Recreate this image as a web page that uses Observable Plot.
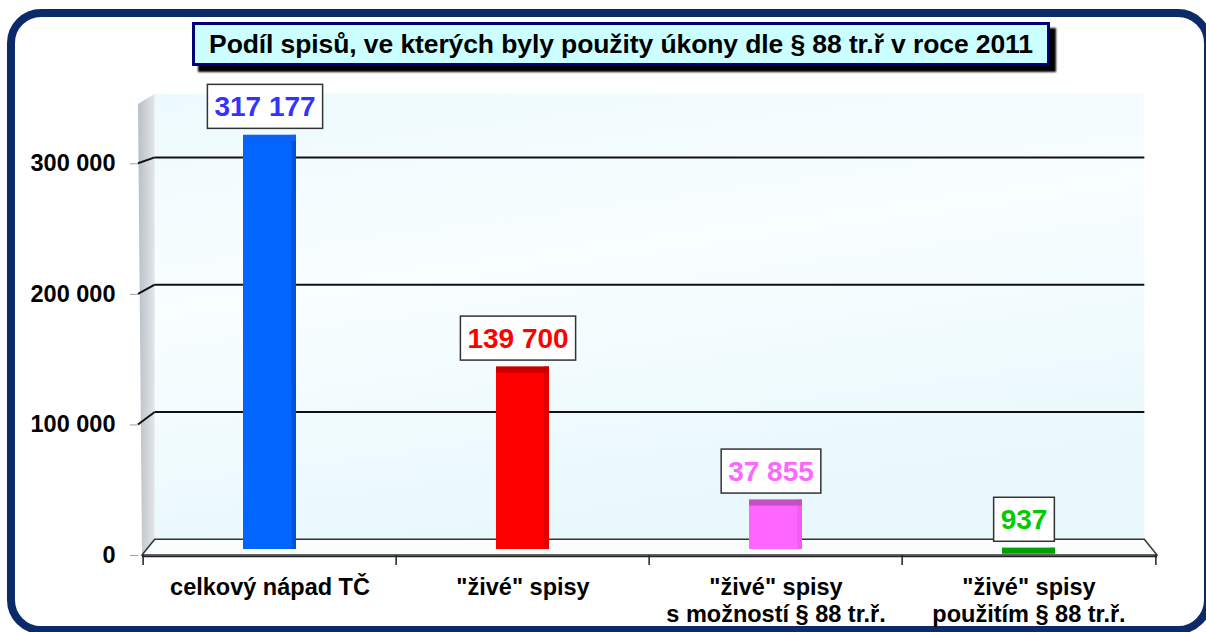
<!DOCTYPE html>
<html>
<head>
<meta charset="utf-8">
<script src="https://cdn.jsdelivr.net/npm/d3@7"></script>
<script src="https://cdn.jsdelivr.net/npm/@observablehq/plot@0.6"></script>
<style>
  body { margin: 0; background: #fff; }
  #wrap { position: relative; width: 1206px; height: 632px; overflow: hidden; font-family: "Liberation Sans", Arial, sans-serif; }
  #frame { position: absolute; left: 7px; top: 9px; width: 1205px; height: 625px; box-sizing: border-box; border: 8px solid #0c2a6a; border-radius: 34px; }
  #title { position: absolute; left: 192px; top: 22px; width: 858px; height: 44px; box-sizing: border-box; border: 3px solid #00007a; background: #ccffff; box-shadow: 6px 6px 2px #000; font-weight: bold; font-size: 26.5px; line-height: 38px; text-align: center; color: #000; white-space: nowrap; z-index: 2; letter-spacing: -0.1px; }
  #wrap svg { position: absolute; left: 0; top: 0; z-index: 1; }
</style>
</head>
<body>
<div id="wrap">
  <div id="frame"></div>
  <div id="title"></div>
</div>
<script>
// ---- data ----
const titleText = "Podíl spisů, ve kterých byly použity úkony dle § 88 tr.ř v roce 2011";
const categories = [
  "celkový nápad TČ",
  "\"živé\" spisy",
  "\"živé\" spisy\ns možností § 88 tr.ř.",
  "\"živé\" spisy\npoužitím § 88 tr.ř."
];
const values = [317177, 139700, 37855, 937];
const valueLabels = ["317 177", "139 700", "37 855", "937"];
const barColors = ["#0066ff", "#ff0000", "#ff66ff", "#00a800"];
const topColors = ["#0a62f4", "#c80000", "#c450c4", "#00a000"];
const sideColors = ["#0052d6", "#e00000", "#f05cf0", "#009000"];
const labelColors = ["#3333ff", "#ff0000", "#ff66ff", "#00cc00"];
const yTicks = [0, 100000, 200000, 300000];
const yTickLabels = ["0", "100 000", "200 000", "300 000"];
const yMax = 350000;

// ---- layout ----
const FONT = "'Liberation Sans', Arial, sans-serif";
const W = 1206, H = 632;
const mL = 142, mR = 49, mT = 98, mB = 77;
const step = (W - mL - mR) / categories.length;
const padIn = 0.79;
const bw = step * (1 - padIn);

document.getElementById("title").textContent = titleText;

const data = categories.map((cat, i) => ({
  cat, value: values[i], label: valueLabels[i],
  fill: barColors[i], top: topColors[i], side: sideColors[i], ink: labelColors[i]
}));

const chart = Plot.plot({
  width: W, height: H,
  marginLeft: mL, marginRight: mR, marginTop: mT, marginBottom: mB,
  style: { background: "transparent", fontFamily: FONT, overflow: "visible" },
  x: { domain: categories, paddingInner: padIn, paddingOuter: padIn / 2, axis: null, label: null },
  y: { domain: [0, yMax], axis: null, label: null },
  color: { type: "identity" },
  marks: [
    Plot.axisY({ ticks: yTicks, tickFormat: d => yTickLabels[yTicks.indexOf(d)], tickSize: 8, dx: -4, tickPadding: 15,
                 stroke: "#a0a0a0", fill: "#000", fontSize: 23.5, fontWeight: "bold", label: null }),
    Plot.axisX({ tickSize: 0, tickPadding: 21, fontSize: 23.5, fontWeight: "bold", lineHeight: 1.12, fill: "#000", label: null }),
    Plot.ruleY([0], { stroke: "#222", strokeWidth: 1.5, dy: 1 }),
    Plot.ruleX(categories, { x: d => d, y1: 0, y2: 0, dx: -step / 2, insetBottom: -10, stroke: "#222", strokeWidth: 1.5 }),
    Plot.ruleX([categories[categories.length - 1]], { x: d => d, y1: 0, y2: 0, dx: step / 2, insetBottom: -10, stroke: "#222", strokeWidth: 1.5 }),
    Plot.barY(data, { x: "cat", y: "value", fill: "fill", dy: -6 }),
    Plot.barY(data, { x: "cat", y: "value", fill: "side", dy: -6, insetLeft: bw - 5 }),
    Plot.barY(data, { x: "cat", y1: "value", y2: "value", fill: "top", dy: -6, insetBottom: -6 }),
    Plot.text(data, { x: "cat", y: "value", text: "label", fill: "ink", dx: -5, dy: -25, lineAnchor: "bottom",
                      fontSize: 28, fontWeight: "bold" })
  ]
});

document.getElementById("wrap").appendChild(chart);

// ---- 3D decoration (back wall, side wall, floor, gridlines) from the plot's scales ----
const ys = chart.scale("y");
const svg = d3.select(chart);
const K = 0.975, VPX = 650, VPY = -72;
const bx = x => VPX + (x - VPX) * K;
const by = y => VPY + (y - VPY) * K;
const xL = mL, xR = W - mR;
const y0 = ys.apply(0), yTop = ys.apply(yMax);

const defs = svg.insert("defs", ":first-child");
const wall = defs.append("linearGradient").attr("id", "wallG").attr("x1", 0).attr("y1", 0).attr("x2", 0.3).attr("y2", 1);
wall.append("stop").attr("offset", "0%").attr("stop-color", "#edfafd");
wall.append("stop").attr("offset", "45%").attr("stop-color", "#f9feff");
wall.append("stop").attr("offset", "100%").attr("stop-color", "#e8f8fc");
const side = defs.append("linearGradient").attr("id", "sideG").attr("x1", 0).attr("y1", 0).attr("x2", 1).attr("y2", 0);
side.append("stop").attr("offset", "0%").attr("stop-color", "#b9bfc6");
side.append("stop").attr("offset", "100%").attr("stop-color", "#e3e7eb");

const deco = svg.insert("g", "defs + *");
deco.append("rect")
  .attr("x", bx(xL)).attr("y", by(yTop))
  .attr("width", bx(xR) - bx(xL)).attr("height", by(y0) - by(yTop))
  .attr("fill", "url(#wallG)");
deco.append("polygon")
  .attr("points", [[xL - 4, yTop + 6], [bx(xL), by(yTop)], [bx(xL), by(y0)], [xL, y0]].map(p => p.join(",")).join(" "))
  .attr("fill", "url(#sideG)");
deco.append("polygon")
  .attr("points", [[xL, y0], [xR, y0], [bx(xR), by(y0)], [bx(xL), by(y0)]].map(p => p.join(",")).join(" "))
  .attr("fill", "#f9fdfe").attr("stroke", "#333").attr("stroke-width", 1.5);
yTicks.filter(v => v > 0).forEach(v => {
  const Y = ys.apply(v);
  deco.append("line").attr("x1", bx(xL)).attr("x2", bx(xR)).attr("y1", by(Y)).attr("y2", by(Y))
    .attr("stroke", "#111").attr("stroke-width", 2);
  deco.append("line").attr("x1", xL - 4).attr("x2", bx(xL)).attr("y1", Y).attr("y2", by(Y))
    .attr("stroke", "#111").attr("stroke-width", 2);
});

// ---- boxes behind value labels ----
const NS = "http://www.w3.org/2000/svg";
svg.selectAll('g[aria-label="text"] text').each(function () {
  const b = this.getBBox();
  const r = document.createElementNS(NS, "rect");
  const t = this.getAttribute("transform");
  if (t) r.setAttribute("transform", t);
  r.setAttribute("x", b.x - 7);
  r.setAttribute("y", b.y - 7);
  r.setAttribute("width", b.width + 14);
  r.setAttribute("height", b.height + 13);
  r.setAttribute("fill", "#fff");
  r.setAttribute("stroke", "#333");
  r.setAttribute("stroke-width", 1.5);
  this.parentNode.insertBefore(r, this);
});
</script>
</body>
</html>
